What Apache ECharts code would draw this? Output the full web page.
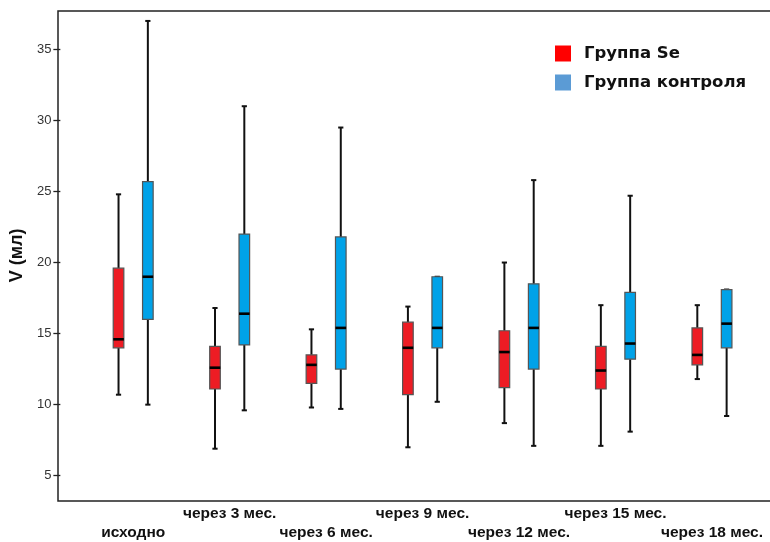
<!DOCTYPE html>
<html>
<head>
<meta charset="utf-8">
<script src="https://cdn.jsdelivr.net/npm/echarts@6/dist/echarts.min.js"></script>
<style>
  html, body { margin: 0; padding: 0; background: #fff; }
  #chart { width: 770px; height: 542px; }
</style>
</head>
<body>
<div id="chart"></div>
<script>
// Time points of the follow-up
const categories = ['исходно', 'через 3 мес.', 'через 6 мес.', 'через 9 мес.', 'через 12 мес.', 'через 15 мес.', 'через 18 мес.'];

// Группа Se: min, Q1, median, Q3, max (мл)
const seMin    = [10.7,  6.9,  9.8,  7.0,  8.7,  7.1, 11.8];
const seQ1     = [14.0, 11.1, 11.5, 10.7, 11.2, 11.1, 12.8];
const seMedian = [14.6, 12.6, 12.8, 14.0, 13.7, 12.4, 13.5];
const seQ3     = [19.6, 14.1, 13.5, 15.8, 15.2, 14.1, 15.4];
const seMax    = [24.8, 16.8, 15.3, 16.9, 20.0, 17.0, 17.0];

// Группа контроля: min, Q1, median, Q3, max (мл)
const ctrlMin    = [10.0,  9.6,  9.7, 10.2,  7.1,  8.1,  9.2];
const ctrlQ1     = [16.0, 14.2, 12.5, 14.0, 12.5, 13.2, 14.0];
const ctrlMedian = [19.0, 16.4, 15.4, 15.4, 15.4, 14.3, 15.7];
const ctrlQ3     = [25.7, 22.0, 21.8, 19.0, 18.5, 17.9, 18.1];
const ctrlMax    = [37.0, 31.0, 29.5, 19.0, 25.8, 24.7, 18.1];

// Y axis tick labels
const yTicks = [5, 10, 15, 20, 25, 30, 35];

const seriesNames = ['Группа Se', 'Группа контроля'];

function rows(mins, q1s, meds, q3s, maxs) {
  return categories.map((c, i) => [i, mins[i], q1s[i], meds[i], q3s[i], maxs[i]]);
}

// Draws one box with whiskers, offset to the left (-1) or right (+1) inside its category band
function boxRenderer(side, fill) {
  return function (params, api) {
    const band = api.size([1, 0])[0];
    const cat = api.value(0);
    const cx = api.coord([cat, 0])[0] + side * band * 0.152;
    const half = band * 0.055;
    const cap = 2.6;
    const y = k => api.coord([cat, api.value(k)])[1];
    const yMin = y(1), yQ1 = y(2), yMed = y(3), yQ3 = y(4), yMax = y(5);
    const ink = { stroke: '#111', lineWidth: 2 };
    return {
      type: 'group',
      children: [
        { type: 'line', shape: { x1: cx, y1: yMin, x2: cx, y2: yQ1 }, style: ink },
        { type: 'line', shape: { x1: cx, y1: yQ3, x2: cx, y2: yMax }, style: ink },
        { type: 'line', shape: { x1: cx - cap, y1: yMin, x2: cx + cap, y2: yMin }, style: ink },
        { type: 'line', shape: { x1: cx - cap, y1: yMax, x2: cx + cap, y2: yMax }, style: ink },
        { type: 'rect', shape: { x: cx - half, y: yQ3, width: half * 2, height: yQ1 - yQ3 },
          style: { fill: fill, stroke: '#555', lineWidth: 1.2 } },
        { type: 'line', shape: { x1: cx - half, y1: yMed, x2: cx + half, y2: yMed },
          style: { stroke: '#000', lineWidth: 2.6 } }
      ]
    };
  };
}

const chart = echarts.init(document.getElementById('chart'));
chart.setOption({
  animation: false,
  backgroundColor: '#fff',
  // open-right plot frame: top, left and bottom edges
  graphic: [{
    type: 'polyline',
    silent: true,
    z: 0,
    shape: { points: [[780, 11], [58, 11], [58, 501], [780, 501]] },
    style: { stroke: '#222', lineWidth: 1.5, fill: null }
  }],
  legend: {
    orient: 'vertical',
    left: 555,
    top: 45,
    itemWidth: 16,
    itemHeight: 16,
    itemGap: 12,
    icon: 'rect',
    padding: 0,
    data: [
      { name: seriesNames[0], itemStyle: { color: '#ff0000' } },
      { name: seriesNames[1], itemStyle: { color: '#5b9bd5' } }
    ],
    textStyle: {
      fontFamily: 'DejaVu Sans',
      fontWeight: 'bold',
      fontSize: 16.5,
      color: '#111',
      padding: [0, 0, 0, 8]
    }
  },
  grid: { left: 82.6, right: 9.8, top: 11, bottom: 41 },
  xAxis: {
    type: 'category',
    data: categories,
    axisLine: { show: false },
    axisTick: { show: false },
    axisLabel: {
      interval: 0,
      margin: 4,
      lineHeight: 19,
      fontFamily: 'Liberation Sans',
      fontWeight: 'bold',
      fontSize: 15.5,
      color: '#111',
      formatter: (v, i) => (i % 2 === 0 ? '\n' + v : v)
    }
  },
  yAxis: {
    type: 'value',
    min: 3.29,
    max: 37.7,
    offset: 24.6,
    name: 'V (мл)',
    nameLocation: 'middle',
    nameGap: 33,
    nameTextStyle: { fontFamily: 'Liberation Sans', fontWeight: 'bold', fontSize: 18, color: '#111' },
    splitLine: { show: false },
    axisLine: { show: false },
    axisTick: { show: true, length: 7, customValues: yTicks, lineStyle: { color: '#222', width: 1.3 } },
    axisLabel: { customValues: yTicks, margin: 9, fontFamily: 'Liberation Sans', fontSize: 13, color: '#333' }
  },
  series: [
    {
      name: seriesNames[0],
      type: 'custom',
      itemStyle: { color: '#ff0000' },
      encode: { x: 0, y: [1, 2, 3, 4, 5] },
      renderItem: boxRenderer(-1, '#ed1c24'),
      data: rows(seMin, seQ1, seMedian, seQ3, seMax)
    },
    {
      name: seriesNames[1],
      type: 'custom',
      itemStyle: { color: '#5b9bd5' },
      encode: { x: 0, y: [1, 2, 3, 4, 5] },
      renderItem: boxRenderer(1, '#00a2e8'),
      data: rows(ctrlMin, ctrlQ1, ctrlMedian, ctrlQ3, ctrlMax)
    }
  ]
});
</script>
</body>
</html>
